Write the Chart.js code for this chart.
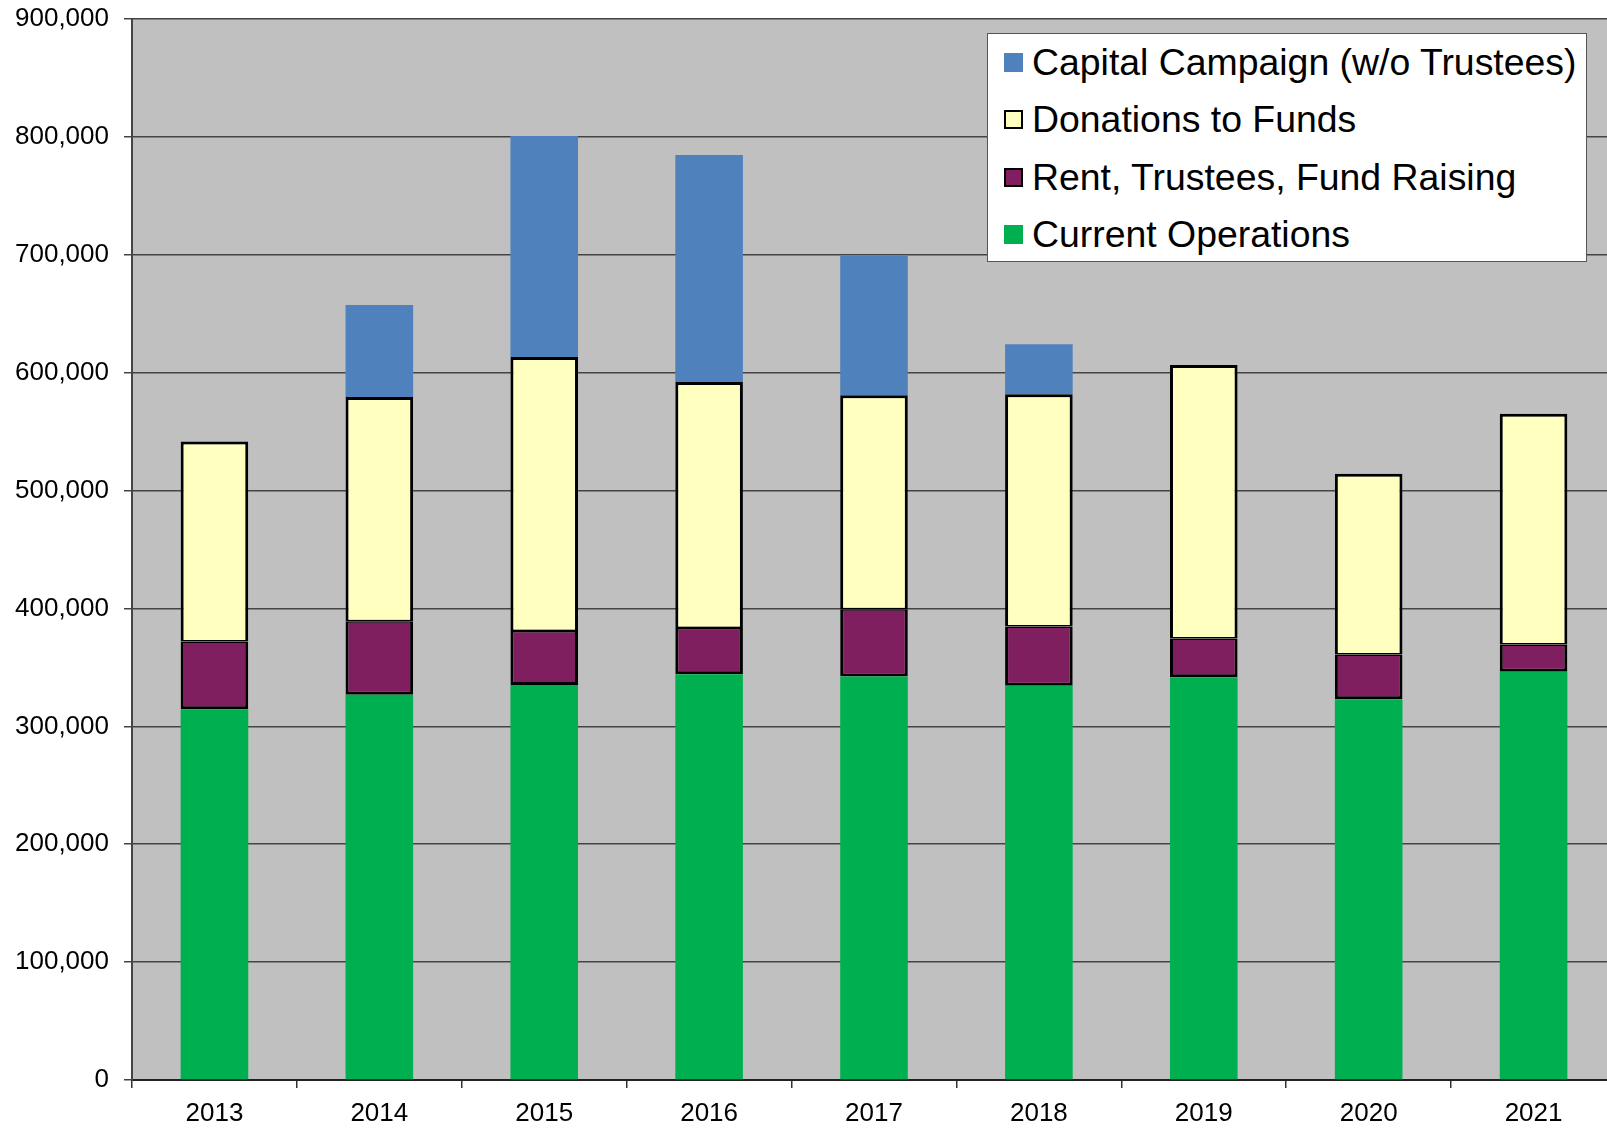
<!DOCTYPE html>
<html>
<head>
<meta charset="utf-8">
<script src="https://cdn.jsdelivr.net/npm/chart.js@4.4.0/dist/chart.umd.min.js"></script>
<style>
html, body { margin: 0; padding: 0; background: #fff; overflow: hidden; }
#wrap { position: relative; width: 1616px; height: 1128px; }
#legend {
    position: absolute; left: 987px; top: 33px; width: 600px; height: 229px;
    background: #fff; border: 1px solid #555; box-sizing: border-box;
    font-family: 'Liberation Sans', Arial, sans-serif; font-size: 37.4px; color: #000;
}
#legend .row { height: 57.3px; display: flex; align-items: center; padding-left: 16px; }
#legend .box { width: 19px; height: 19px; margin-right: 9px; box-sizing: border-box; }
</style>
</head>
<body>
<div id="wrap">
    <canvas id="chart" width="1616" height="1128"></canvas>
    <div id="legend"></div>
</div>
<script>
const years = ['2013', '2014', '2015', '2016', '2017', '2018', '2019', '2020', '2021'];
const currentOps = [314500, 326700, 335000, 344200, 342300, 334500, 341700, 323000, 346200];
const rentTrustees = [57400, 62500, 45800, 39200, 57100, 50200, 32800, 37900, 23200];
const donations = [169700, 190100, 232500, 208700, 181400, 197000, 231900, 153300, 195700];
const capital = [0, 78000, 187500, 192600, 118600, 42400, 0, 0, 0];

const plotBg = {
    id: 'plotBg',
    beforeDraw(chart) {
        const { ctx, chartArea: a } = chart;
        ctx.save();
        ctx.fillStyle = '#c0c0c0';
        ctx.fillRect(a.left, a.top, a.right - a.left, a.bottom - a.top);
        ctx.restore();
    },
};

const tickFont = { family: "'Liberation Sans', Arial, sans-serif", size: 26 };

const chart = new Chart(document.getElementById('chart'), {
    type: 'bar',
    data: {
        labels: years,
        datasets: [{
            label: 'Current Operations',
            data: currentOps,
            backgroundColor: '#00b050',
            borderWidth: 0,
        }, {
            label: 'Rent, Trustees, Fund Raising',
            data: rentTrustees,
            backgroundColor: '#7f1f5f',
            borderColor: '#000',
            borderWidth: { top: 1.5, left: 3, right: 3, bottom: 3 },
            borderSkipped: false,
        }, {
            label: 'Donations to Funds',
            data: donations,
            backgroundColor: '#ffffc0',
            borderColor: '#000',
            borderWidth: { top: 3, left: 3, right: 3, bottom: 1.5 },
            borderSkipped: false,
        }, {
            label: 'Capital Campaign (w/o Trustees)',
            data: capital,
            backgroundColor: '#4f81bd',
            borderWidth: 0,
        }],
    },
    options: {
        responsive: false,
        animation: false,
        datasets: {
            bar: { barPercentage: 0.41, categoryPercentage: 1 },
        },
        layout: { padding: { top: 19, right: 0, bottom: 0, left: 0 } },
        plugins: {
            legend: { display: false },
            tooltip: { enabled: false },
        },
        scales: {
            x: {
                stacked: true,
                grid: { offset: true, drawOnChartArea: false, color: '#333', lineWidth: 1.5, tickLength: 8 },
                border: { color: '#222', width: 2 },
                ticks: { color: '#000', font: tickFont, padding: 10 },
                afterFit: (s) => { s.height = 48; },
            },
            y: {
                stacked: true,
                min: 0,
                max: 900000,
                grid: { color: '#444', lineWidth: 1.5, tickLength: 8 },
                border: { color: '#444', width: 2 },
                ticks: {
                    stepSize: 100000,
                    color: '#000',
                    font: tickFont,
                    padding: 15,
                    callback: (v) => v.toLocaleString('en-US'),
                },
                afterFit: (s) => {
                    s.width = 132;
                    s.paddingTop = 0;
                    s.paddingBottom = 0;
                },
            },
        },
    },
    plugins: [plotBg],
});

// legend, top series first
const legend = document.getElementById('legend');
chart.data.datasets.slice().reverse().forEach((ds) => {
    const row = document.createElement('div');
    row.className = 'row';
    const box = document.createElement('span');
    box.className = 'box';
    box.style.background = ds.backgroundColor;
    if (ds.borderColor) box.style.border = '2px solid #000';
    const txt = document.createElement('span');
    txt.textContent = ds.label;
    row.appendChild(box);
    row.appendChild(txt);
    legend.appendChild(row);
});
</script>
</body>
</html>
